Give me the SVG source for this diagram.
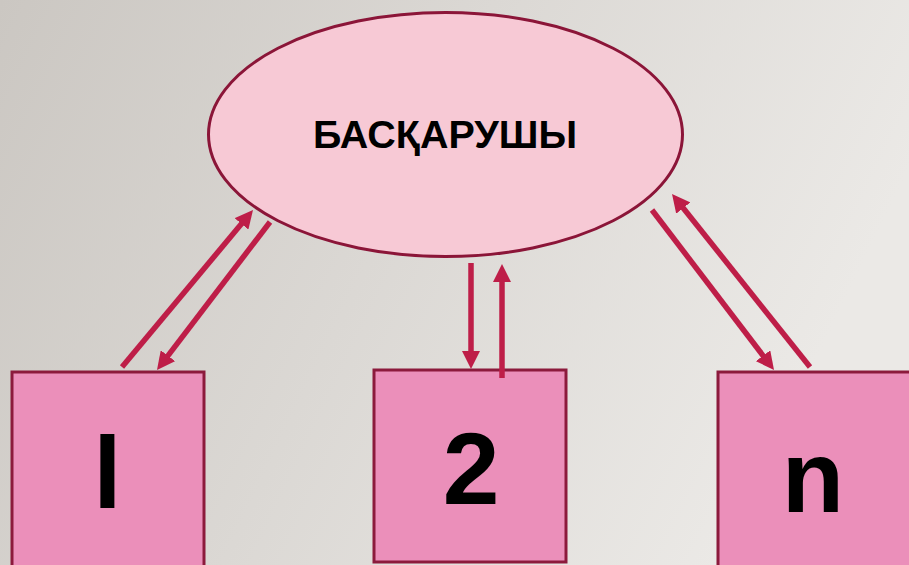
<svg xmlns="http://www.w3.org/2000/svg" width="909" height="565" viewBox="0 0 909 565">
<defs>
<linearGradient id="bg" x1="0" y1="0" x2="1" y2="0.3">
<stop offset="0" stop-color="#cbc7c2"/>
<stop offset="1" stop-color="#ebe9e6"/>
</linearGradient>
<marker id="ah" viewBox="0 0 18 18" markerUnits="userSpaceOnUse" markerWidth="18" markerHeight="18" refX="2" refY="9" orient="auto">
<path d="M0,0 L18,9 L0,18 z" fill="#be1e48"/>
</marker>
</defs>
<style>
.box{fill:#eb8fba;stroke:#8c1a3c;stroke-width:3}
.lbl{font-family:"Liberation Sans",Arial,sans-serif;font-weight:bold;fill:#000}
.big{font-size:102px}
.arr{stroke:#be1e48;stroke-width:5.5;fill:none;marker-end:url(#ah)}
</style>
<rect x="0" y="0" width="909" height="565" fill="url(#bg)"/>
<g id="node-main">
<ellipse cx="445.5" cy="134.5" rx="237" ry="122" fill="#f7c9d5" stroke="#8b1538" stroke-width="3"/>
<text class="lbl" x="445" y="148" font-size="38" text-anchor="middle" textLength="264" lengthAdjust="spacingAndGlyphs">БАСҚАРУШЫ</text>
</g>
<g id="node-1">
<rect class="box" x="12" y="372" width="192" height="196"/>
<text class="lbl big" x="107.5" y="508" text-anchor="middle">l</text>
</g>
<g id="node-2">
<rect class="box" x="374" y="370" width="192" height="192"/>
<text class="lbl big" x="471" y="504" text-anchor="middle">2</text>
</g>
<g id="node-n">
<rect class="box" x="718" y="372" width="196" height="196"/>
<text class="lbl big" x="813" y="512" text-anchor="middle">n</text>
</g>
<g id="connectors">
<line class="arr" x1="122" y1="367" x2="242.75" y2="222.3"/>
<line class="arr" x1="270" y1="222" x2="166.7" y2="357.3"/>
<line class="arr" x1="471" y1="263" x2="471" y2="353"/>
<line class="arr" x1="502" y1="378" x2="502" y2="280"/>
<line class="arr" x1="652" y1="210" x2="764.3" y2="357.3"/>
<line class="arr" x1="810" y1="367" x2="682" y2="206.5"/>
</g>
</svg>
